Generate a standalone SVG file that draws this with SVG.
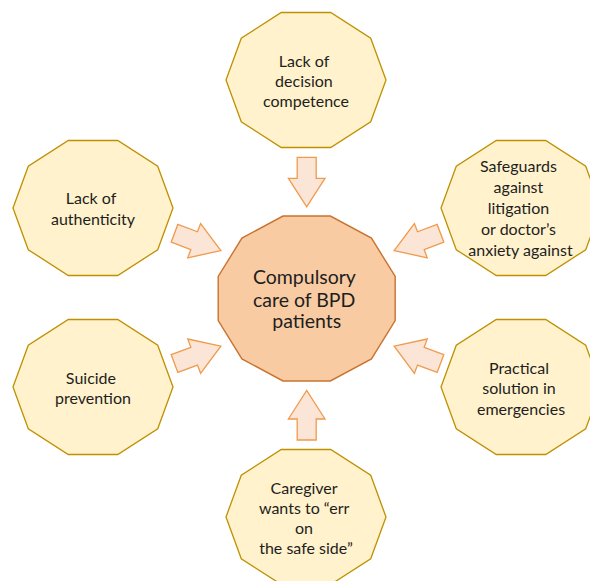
<svg xmlns="http://www.w3.org/2000/svg" xmlns:xlink="http://www.w3.org/1999/xlink" width="590" height="581" viewBox="0 0 590 581">
  <style>
    .factor { fill: #FFF2CC; stroke: #BF9000; stroke-width: 1.3; stroke-linejoin: miter; }
    .core { fill: #F8CBA2; stroke: #C9732F; stroke-width: 1.4; }
    .arrow { fill: #FBE5D6; stroke: #F09A4C; stroke-width: 1.3; stroke-linejoin: miter; }
    text { font-family: Lato, "Open Sans", "Liberation Sans", sans-serif; fill: #1E1E1E; text-anchor: middle; }
    .lbl { font-size: 16px; }
    .core-lbl { font-size: 19.5px; }
  </style>
  <defs>
    <!-- ten-sided factor shape, centred on the origin -->
    <polygon id="deca" points="80,0 64.72,-41.73 24.72,-67.52 -24.72,-67.52 -64.72,-41.73 -80,0 -64.72,41.73 -24.72,67.52 24.72,67.52 64.72,41.73"/>
    <!-- block arrow pointing along +x, tail at the origin -->
    <polygon id="blk" points="0,-9.5 21,-9.5 21,-18.3 49.5,0 21,18.3 21,9.5 0,9.5"/>
  </defs>

  <rect width="590" height="581" fill="#FFFFFF"/>

  <g id="connectors">
    <use xlink:href="#blk" href="#blk" class="arrow" transform="translate(306.7,157.3) rotate(90)"/>
    <use xlink:href="#blk" href="#blk" class="arrow" transform="translate(306.7,440) rotate(-90)"/>
    <use xlink:href="#blk" href="#blk" class="arrow" transform="translate(174.5,233.3) rotate(20.5)"/>
    <use xlink:href="#blk" href="#blk" class="arrow" transform="translate(440.5,233.3) rotate(159.5)"/>
    <use xlink:href="#blk" href="#blk" class="arrow" transform="translate(174.5,363.5) rotate(-20.5)"/>
    <use xlink:href="#blk" href="#blk" class="arrow" transform="translate(440.5,363.5) rotate(-159.5)"/>
  </g>

  <g id="core">
    <polygon class="core" transform="translate(306.7,298.5)" points="88.48,-22.1 64.77,-60.39 23.71,-82.49 -23.71,-82.49 -64.77,-60.39 -88.48,-22.1 -88.48,22.1 -64.77,60.39 -23.71,82.49 23.71,82.49 64.77,60.39 88.48,22.1"/>
    <text class="core-lbl">
      <tspan x="306.7" y="284">Compulsory</tspan>
      <tspan x="306.7" y="306.5">care of BPD</tspan>
      <tspan x="306.7" y="328">patients</tspan>
    </text>
  </g>

  <g id="decision-competence">
    <use xlink:href="#deca" href="#deca" class="factor" x="306" y="80"/>
    <text class="lbl">
      <tspan x="306" y="66.5">Lack of</tspan>
      <tspan x="306" y="86.5">decision</tspan>
      <tspan x="306" y="106.5">competence</tspan>
    </text>
  </g>

  <g id="authenticity">
    <use xlink:href="#deca" href="#deca" class="factor" x="93" y="208"/>
    <text class="lbl">
      <tspan x="93" y="204">Lack of</tspan>
      <tspan x="93" y="224.5">authenticity</tspan>
    </text>
  </g>

  <g id="safeguards">
    <use xlink:href="#deca" href="#deca" class="factor" x="521" y="208"/>
    <text class="lbl">
      <tspan x="520.5" y="172">Safeguards</tspan>
      <tspan x="520.5" y="193">against</tspan>
      <tspan x="520.5" y="214">litigation</tspan>
      <tspan x="520.5" y="235">or doctor’s</tspan>
      <tspan x="520.5" y="255.5">anxiety against</tspan>
    </text>
  </g>

  <g id="suicide-prevention">
    <use xlink:href="#deca" href="#deca" class="factor" x="93" y="387"/>
    <text class="lbl">
      <tspan x="93" y="383.5">Suicide</tspan>
      <tspan x="93" y="404">prevention</tspan>
    </text>
  </g>

  <g id="practical-solution">
    <use xlink:href="#deca" href="#deca" class="factor" x="521" y="387"/>
    <text class="lbl">
      <tspan x="521" y="373.5">Practical</tspan>
      <tspan x="521" y="394">solution in</tspan>
      <tspan x="521" y="414.5">emergencies</tspan>
    </text>
  </g>

  <g id="caregiver">
    <use xlink:href="#deca" href="#deca" class="factor" x="306" y="517"/>
    <text class="lbl">
      <tspan x="306" y="493.5">Caregiver</tspan>
      <tspan x="306" y="514">wants to “err</tspan>
      <tspan x="306" y="534">on</tspan>
      <tspan x="306" y="554">the safe side”</tspan>
    </text>
  </g>
</svg>
